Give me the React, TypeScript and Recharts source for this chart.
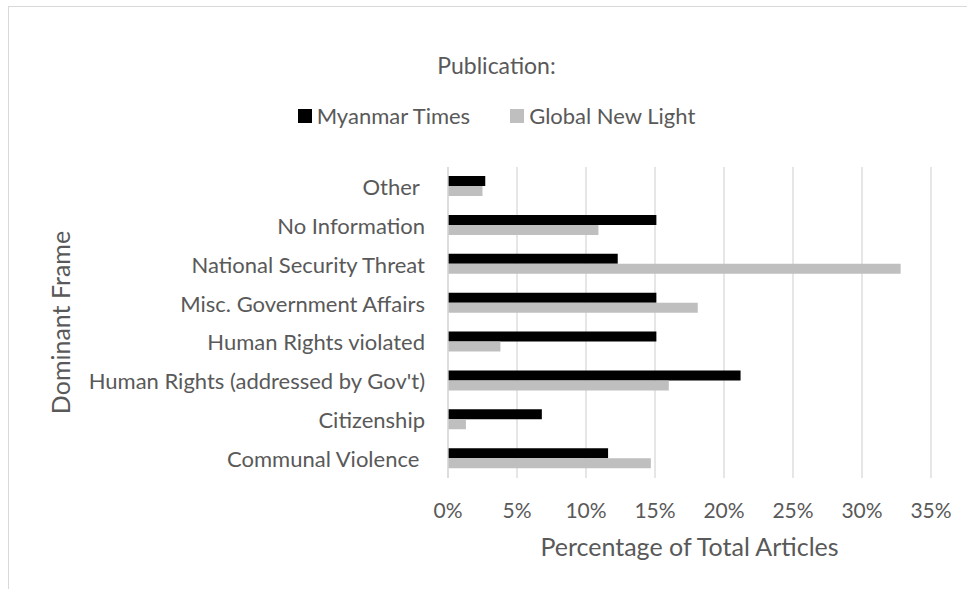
import { BarChart, Bar, XAxis, YAxis, CartesianGrid, Legend, Label } from "recharts";

const frames = [
  "Other ",
  "No Information",
  "National Security Threat",
  "Misc. Government Affairs",
  "Human Rights violated",
  "Human Rights (addressed by Gov't)",
  "Citizenship",
  "Communal Violence ",
];
const myanmarTimes = [2.7, 15.1, 12.3, 15.1, 15.1, 21.2, 6.8, 11.6];
const globalNewLight = [2.5, 10.9, 32.8, 18.1, 3.8, 16.0, 1.3, 14.7];
const xTicks = [0, 5, 10, 15, 20, 25, 30, 35];

const series = [
  { key: "mt", name: "Myanmar Times", color: "#000000" },
  { key: "gnl", name: "Global New Light", color: "#bfbfbf" },
];

const data = frames.map((frame, i) => ({
  frame,
  mt: myanmarTimes[i],
  gnl: globalNewLight[i],
}));

const FONT = "Lato, 'Noto Sans', sans-serif";
const TEXT = "#595959";
const GRID = "#d9d9d9";

const LegendBox = () => (
  <div style={{ fontFamily: FONT, color: TEXT, textAlign: "center" }}>
    <div style={{ fontSize: 23, lineHeight: "24px" }}>Publication:</div>
    <div style={{ display: "flex", justifyContent: "center", marginTop: 27, fontSize: 22, lineHeight: "24px" }}>
      {series.map((s, i) => (
        <span key={s.key} style={{ display: "flex", alignItems: "center", marginLeft: i ? 40 : 0 }}>
          <span style={{ width: 14, height: 14, background: s.color, marginRight: 5 }} />
          {s.name}
        </span>
      ))}
    </div>
  </div>
);

const YTitle = ({ viewBox }: any) => {
  const cy = viewBox.y + viewBox.height / 2;
  return (
    <text x={60} y={cy} transform={`rotate(-90 60 ${cy})`} textAnchor="middle" dominantBaseline="central"
      fill={TEXT} fontSize={25} fontFamily={FONT}>
      Dominant Frame
    </text>
  );
};

const XTitle = ({ viewBox }: any) => (
  <text x={viewBox.x + viewBox.width / 2} y={546} textAnchor="middle" dominantBaseline="central"
    fill={TEXT} fontSize={25} fontFamily={FONT}>
    Percentage of Total Articles
  </text>
);

const XTick = ({ x, payload }: any) => (
  <text x={x} y={509} textAnchor="middle" dominantBaseline="central" fill={TEXT} fontSize={21} fontFamily={FONT}>
    {`${payload.value}%`}
  </text>
);

const YTick = ({ y, payload }: any) => (
  <text x={425} y={y} textAnchor="end" dominantBaseline="central" fill={TEXT} fontSize={22} fontFamily={FONT}
    style={{ whiteSpace: "pre" }}>
    {payload.value}
  </text>
);

export default function App() {
  return (
    <div style={{ position: "absolute", left: 0, top: 0, width: 967, height: 589, overflow: "hidden", background: "#fff" }}>
      <div style={{ position: "absolute", left: 8, top: 6, width: 1100, height: 800, border: `1px solid ${GRID}` }} />
      <BarChart
        width={967}
        height={589}
        data={data}
        layout="vertical"
        margin={{ top: 167, right: 36, bottom: 81, left: 0 }}
        barGap={0}
        barSize={10}
      >
        <CartesianGrid horizontal={false} stroke={GRID} strokeWidth={1.3} />
        <XAxis
          type="number"
          domain={[0, 35]}
          ticks={xTicks}
          axisLine={false}
          tickLine={false}
          height={30}
          tick={<XTick />}
          interval={0}
        >
          <Label content={<XTitle />} />
        </XAxis>
        <YAxis
          type="category"
          dataKey="frame"
          width={448}
          axisLine={{ stroke: GRID, strokeWidth: 1.3 }}
          tickLine={false}
          tick={<YTick />}
          interval={0}
        >
          <Label content={<YTitle />} />
        </YAxis>
        <Legend
          verticalAlign="middle"
          align="center"
          layout="horizontal"
          wrapperStyle={{ top: 53, left: 13, width: 967 }}
          content={<LegendBox />}
        />
        {series.map((s) => (
          <Bar key={s.key} dataKey={s.key} name={s.name} fill={s.color} isAnimationActive={false} />
        ))}
      </BarChart>
    </div>
  );
}
